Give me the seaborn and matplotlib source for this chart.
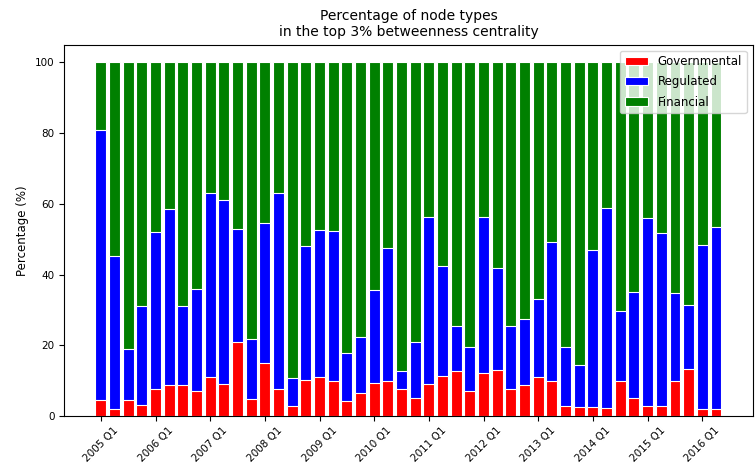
import numpy as np
import pandas as pd
import matplotlib
matplotlib.use("Agg")
import matplotlib.pyplot as plt
import seaborn as sns

years = list(range(2005, 2017))
quarters = [f"{y} Q{q}" for y in years for q in range(1, 5)][:46]

governmental = [4.5, 1.9, 4.5, 3.2, 7.7, 8.8, 8.6, 7.0, 10.9, 9.1,
                21.0, 4.8, 15.1, 7.6, 2.7, 10.2, 11.1, 9.9, 4.3, 6.4,
                9.2, 9.8, 7.7, 5.2, 9.1, 11.2, 12.7, 7.0, 12.0, 12.9,
                7.7, 8.6, 11.0, 10.0, 2.9, 2.5, 2.5, 2.3, 9.8, 5.2,
                2.9, 2.9, 9.8, 13.4, 2.0, 2.0]
regulated = [76.5, 43.3, 14.4, 27.9, 44.2, 49.7, 22.5, 28.8, 52.1, 52.0,
             31.8, 17.0, 39.4, 55.4, 7.9, 37.9, 41.5, 42.4, 13.5, 15.9,
             26.3, 37.8, 5.1, 15.6, 47.3, 31.2, 12.7, 12.4, 44.2, 29.0,
             17.7, 18.7, 22.1, 39.1, 16.5, 11.9, 44.5, 56.4, 19.8, 29.8,
             53.1, 48.8, 25.0, 18.1, 46.3, 51.5]
financial = [100 - g - r for g, r in zip(governmental, regulated)]

tick_labels = [f"{y} Q1" for y in years]

df = pd.DataFrame({"quarter": quarters, "gov": governmental,
                   "reg": regulated, "fin": financial})
df["top_reg"] = df["gov"] + df["reg"]
df["top_fin"] = df["top_reg"] + df["fin"]

fig, ax = plt.subplots(figsize=(7.55, 4.71), dpi=100)
fig.subplots_adjust(left=0.085, right=0.997, bottom=0.117, top=0.905)

common = dict(x="quarter", order=quarters, errorbar=None, saturation=1,
              edgecolor="white", linewidth=0.8, width=0.8, ax=ax)
sns.barplot(data=df, y="top_fin", color="green", label="Financial", **common)
sns.barplot(data=df, y="top_reg", color="blue", label="Regulated", **common)
sns.barplot(data=df, y="gov", color="red", label="Governmental", **common)

ax.set_xlim(-2.69, len(quarters) - 1 + 2.69)
ax.set_ylim(0, 105)
ax.set_yticks([0, 20, 40, 60, 80, 100])
tick_pos = [quarters.index(t) for t in tick_labels]
ax.set_xticks(tick_pos)
ax.set_xticklabels(tick_labels, rotation=45, ha="center")
ax.tick_params(labelsize=7.5)
ax.set_xlabel("")
ax.set_ylabel("Percentage (%)", fontsize=8.5)
ax.set_title("Percentage of node types\nin the top 3% betweenness centrality", fontsize=10)

handles, labels = ax.get_legend_handles_labels()
hmap = dict(zip(labels, handles))
order = ["Governmental", "Regulated", "Financial"]
ax.legend([hmap[l] for l in order], order, loc="upper right", fontsize=8.5,
          labelspacing=0.6)

for s in ax.spines.values():
    s.set_visible(True)

fig.savefig("out.png", dpi=100)
